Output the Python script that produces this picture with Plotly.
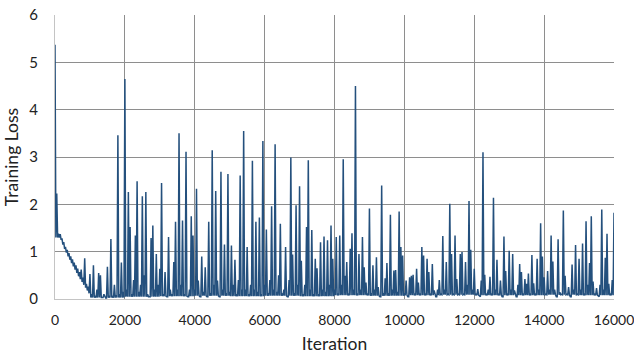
import plotly.graph_objects as go

# Training loss logged every 50 iterations, one list per 1000 iterations.
# Each logged value is followed by the noise floor reached before the next log.
ITER_STEP = 50
loss_00k = [5.37, 2.23, 1.38, 1.37, 1.28, 1.20, 1.10, 1.04, 0.97, 0.90,
            0.84, 0.77, 0.71, 0.64, 0.57, 0.62, 0.45, 0.86, 0.32, 0.26]
loss_01k = [0.53, 0.10, 0.71, 0.05, 0.20, 0.55, 0.50, 0.03, 0.10, 0.02,
            0.68, 0.05, 1.27, 0.05, 0.30, 0.08, 3.46, 0.10, 0.77, 0.15]
loss_02k = [4.65, 0.20, 2.26, 1.52, 0.10, 0.40, 1.34, 2.49, 0.15, 0.30,
            2.17, 0.50, 2.26, 0.10, 0.05, 1.29, 1.55, 0.20, 0.95, 0.30]
loss_03k = [0.64, 2.45, 0.10, 0.57, 0.05, 1.31, 0.20, 0.10, 0.78, 1.63,
            0.20, 3.50, 0.30, 1.66, 0.10, 3.11, 0.05, 0.20, 1.75, 1.34]
loss_04k = [0.20, 2.33, 0.39, 0.05, 0.90, 0.15, 0.67, 0.05, 1.63, 0.10,
            3.14, 0.30, 2.28, 0.39, 0.05, 2.69, 0.20, 1.15, 0.10, 2.64]
loss_05k = [0.15, 1.13, 0.30, 0.83, 0.10, 0.40, 2.61, 0.20, 3.55, 0.20,
            1.10, 0.10, 0.30, 2.92, 0.20, 1.63, 0.15, 1.72, 0.10, 3.34]
loss_06k = [0.30, 1.47, 0.10, 0.40, 1.96, 0.20, 3.27, 0.15, 0.50, 1.59,
            0.10, 0.20, 1.10, 0.05, 0.40, 2.99, 0.94, 0.10, 1.98, 0.30]
loss_07k = [2.38, 0.81, 0.10, 0.30, 1.52, 2.93, 0.20, 1.46, 0.10, 0.85,
            0.65, 0.10, 1.20, 0.20, 1.32, 0.15, 1.24, 0.30, 1.55, 0.85]
loss_08k = [0.20, 1.31, 0.10, 1.34, 0.30, 2.95, 0.49, 0.78, 0.10, 1.06,
            1.39, 0.20, 4.50, 0.10, 0.95, 0.20, 1.31, 0.67, 0.35, 0.10]
loss_09k = [1.91, 0.10, 0.71, 0.20, 0.88, 0.25, 0.05, 2.40, 0.10, 0.44,
            0.76, 0.10, 1.78, 0.20, 0.60, 0.61, 0.15, 1.85, 1.10, 0.92]
loss_10k = [0.10, 0.39, 0.05, 0.46, 0.49, 0.51, 0.10, 0.64, 0.35, 0.10,
            1.10, 0.92, 0.10, 0.85, 0.57, 0.10, 0.74, 0.18, 0.05, 0.20]
loss_11k = [0.40, 0.10, 1.33, 0.20, 0.78, 0.10, 2.01, 0.95, 0.10, 1.34,
            0.42, 0.10, 0.95, 0.99, 0.10, 0.78, 0.30, 2.07, 1.04, 0.20]
loss_12k = [0.64, 0.10, 0.21, 0.05, 0.39, 3.10, 0.51, 0.10, 0.20, 0.47,
            0.10, 2.14, 0.20, 0.83, 0.10, 0.39, 0.05, 1.32, 0.59, 0.10]
loss_13k = [1.02, 0.20, 0.95, 0.18, 0.05, 0.30, 0.74, 0.57, 0.10, 0.42,
            0.32, 0.54, 0.10, 0.93, 0.33, 0.10, 0.85, 0.20, 1.60, 0.90]
loss_14k = [0.46, 0.10, 0.59, 0.20, 1.34, 0.79, 0.20, 0.05, 1.26, 0.14,
            0.10, 1.87, 0.49, 0.10, 0.25, 0.05, 0.73, 0.20, 1.14, 0.10]
loss_15k = [0.85, 0.20, 1.17, 0.10, 1.64, 0.30, 0.76, 1.75, 0.37, 0.10,
            0.23, 0.05, 0.30, 1.89, 0.20, 0.87, 1.38, 0.32, 0.10, 0.40]
loss_16k = [1.82]

# Lower edge of the early, smoothly decaying band (0-950)
floor_00k = [1.30, 1.30, 1.30, 1.25, 1.15, 1.06, 0.98, 0.90, 0.83, 0.76,
             0.69, 0.62, 0.55, 0.48, 0.42, 0.36, 0.30, 0.24, 0.18, 0.12]
# Noise floor of each later 1000-iteration block (1000-15999)
floor_blocks = [0.03, 0.05, 0.06, 0.07, 0.06, 0.07, 0.06, 0.08,
                0.07, 0.08, 0.09, 0.08, 0.08, 0.09, 0.08]

loss_blocks = [loss_00k, loss_01k, loss_02k, loss_03k, loss_04k, loss_05k,
               loss_06k, loss_07k, loss_08k, loss_09k, loss_10k, loss_11k,
               loss_12k, loss_13k, loss_14k, loss_15k]

iterations, values = [], []
for b, block in enumerate(loss_blocks):
    for k, v in enumerate(block):
        it = (b * len(block) + k) * ITER_STEP
        low = floor_00k[k] if b == 0 else floor_blocks[b - 1]
        iterations += [it, it + ITER_STEP / 2]
        values += [v, min(v, low)]
iterations.append(16000)
values.append(loss_16k[0])

x_ticks = [0, 2000, 4000, 6000, 8000, 10000, 12000, 14000, 16000]
y_ticks = [0, 1, 2, 3, 4, 5, 6]

FONT = "Lato"
TEXT = "#222222"
GRID = "#8e8e8e"

fig = go.Figure(go.Scatter(
    x=iterations, y=values, mode="lines",
    line=dict(color="#24507d", width=1.5),
))

fig.update_layout(
    width=634, height=356,
    margin=dict(l=55, r=20, t=15, b=57),
    paper_bgcolor="white", plot_bgcolor="white",
    showlegend=False,
    font=dict(family=FONT, size=14, color=TEXT),
)
fig.update_xaxes(
    range=[0, 16000], tickvals=x_ticks, ticktext=[str(v) for v in x_ticks],
    automargin=False,
    showgrid=True, gridcolor=GRID, gridwidth=1,
    zeroline=False, showline=True, linecolor="#c4c4c4", linewidth=1,
    ticks="", ticklabelstandoff=8, ticklabeloverflow="allow",
    tickfont=dict(family=FONT, size=14, color=TEXT),
    title=dict(text="Iteration", font=dict(family=FONT, size=17.5, color=TEXT),
               standoff=10),
)
fig.update_yaxes(
    range=[0, 6], tickvals=y_ticks, ticktext=[str(v) for v in y_ticks],
    automargin=False,
    showgrid=True, gridcolor=GRID, gridwidth=1,
    zeroline=False, showline=True, linecolor="#c4c4c4", linewidth=1,
    ticks="", ticklabelstandoff=13,
    tickfont=dict(family=FONT, size=15, color=TEXT),
    title=dict(text="Training Loss", font=dict(family=FONT, size=17.5, color=TEXT),
               standoff=6),
)

fig.write_html("out.html")
